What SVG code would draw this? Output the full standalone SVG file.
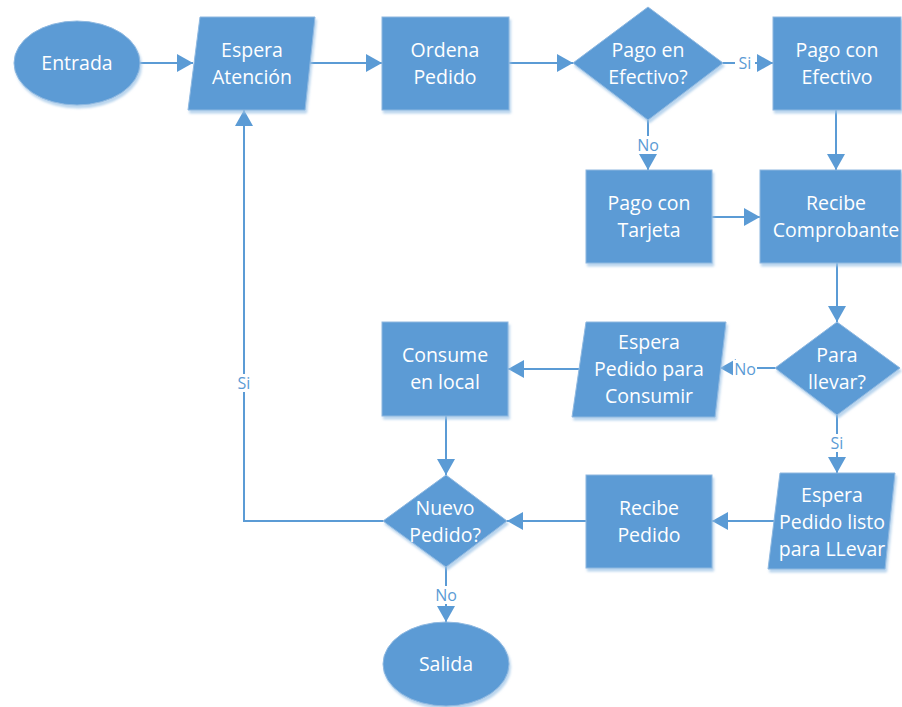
<svg xmlns="http://www.w3.org/2000/svg" width="902" height="707" viewBox="0 0 902 707">
  <defs>
    <filter id="shadow" x="-10%" y="-10%" width="125%" height="130%">
      <feDropShadow dx="1.5" dy="3" stdDeviation="1.2" flood-color="#9dc3e6" flood-opacity="0.7"/>
    </filter>
    <marker id="arrow" viewBox="0 0 16 18" refX="16" refY="9" markerWidth="16" markerHeight="18" markerUnits="userSpaceOnUse" orient="auto">
      <path d="M0,0 L16,9 L0,18 z" fill="#5b9bd5"/>
    </marker>
  </defs>
  <style>
    .shape { fill: #5b9bd5; stroke: #8fb8e0; stroke-width: 1; filter: url(#shadow); }
    .txt { font-family: "Open Sans", "Noto Sans", sans-serif; font-size: 19.5px; fill: #ffffff; text-anchor: middle; }
    .edge { fill: none; stroke: #5b9bd5; stroke-width: 2; }
    .lbl { font-family: "Open Sans", "Noto Sans", sans-serif; font-size: 16px; fill: #5b9bd5; text-anchor: middle; }
    .lblbg { fill: #ffffff; }
  </style>
  <rect width="902" height="707" fill="#ffffff"/>

  <g id="connectors">
    <path class="edge" d="M140,63 H193" marker-end="url(#arrow)"/>
    <path class="edge" d="M310,63 H382" marker-end="url(#arrow)"/>
    <path class="edge" d="M509,63 H573" marker-end="url(#arrow)"/>
    <path class="edge" d="M723,63 H773" marker-end="url(#arrow)"/>
    <path class="edge" d="M648,120 V170" marker-end="url(#arrow)"/>
    <path class="edge" d="M836,110 V170" marker-end="url(#arrow)"/>
    <path class="edge" d="M712,217 H760" marker-end="url(#arrow)"/>
    <path class="edge" d="M837,263 V322" marker-end="url(#arrow)"/>
    <path class="edge" d="M775,368 H720" marker-end="url(#arrow)"/>
    <path class="edge" d="M837,415 V473" marker-end="url(#arrow)"/>
    <path class="edge" d="M579,369 H508" marker-end="url(#arrow)"/>
    <path class="edge" d="M774,521 H712" marker-end="url(#arrow)"/>
    <path class="edge" d="M586,521 H507" marker-end="url(#arrow)"/>
    <path class="edge" d="M446,416 V475" marker-end="url(#arrow)"/>
    <path class="edge" d="M446,567 V622" marker-end="url(#arrow)"/>
    <path class="edge" d="M383,521 H244 V110" marker-end="url(#arrow)"/>

    <!-- branch labels -->
    <rect class="lblbg" x="735" y="54" width="20" height="18"/>
    <text class="lbl" x="745" y="69">Si</text>
    <rect class="lblbg" x="636" y="136" width="24" height="18"/>
    <text class="lbl" x="648" y="151">No</text>
    <rect class="lblbg" x="733" y="360" width="24" height="18"/>
    <text class="lbl" x="745" y="375">No</text>
    <rect class="lblbg" x="827" y="434" width="20" height="18"/>
    <text class="lbl" x="837" y="449">Si</text>
    <rect class="lblbg" x="434" y="586" width="24" height="18"/>
    <text class="lbl" x="446" y="601">No</text>
    <rect class="lblbg" x="234" y="374" width="20" height="18"/>
    <text class="lbl" x="244" y="389">Si</text>
  </g>

  <g id="entrada">
    <ellipse class="shape" cx="77" cy="63" rx="63" ry="42"/>
    <text class="txt" x="77" y="70">Entrada</text>
  </g>

  <g id="espera-atencion">
    <polygon class="shape" points="200,17 315,17 305,110 188,110"/>
    <text class="txt" x="252" y="57">Espera</text>
    <text class="txt" x="252" y="84">Atención</text>
  </g>

  <g id="ordena-pedido">
    <rect class="shape" x="382" y="17" width="127" height="93"/>
    <text class="txt" x="445" y="57">Ordena</text>
    <text class="txt" x="445" y="84">Pedido</text>
  </g>

  <g id="pago-en-efectivo">
    <polygon class="shape" points="648,7 723,63 648,120 573,63"/>
    <text class="txt" x="648" y="57">Pago en</text>
    <text class="txt" x="648" y="84">Efectivo?</text>
  </g>

  <g id="pago-con-efectivo">
    <rect class="shape" x="773" y="17" width="128" height="93"/>
    <text class="txt" x="837" y="57">Pago con</text>
    <text class="txt" x="837" y="84">Efectivo</text>
  </g>

  <g id="pago-con-tarjeta">
    <rect class="shape" x="586" y="170" width="126" height="93"/>
    <text class="txt" x="649" y="210">Pago con</text>
    <text class="txt" x="649" y="237">Tarjeta</text>
  </g>

  <g id="recibe-comprobante">
    <rect class="shape" x="760" y="170" width="141" height="93"/>
    <text class="txt" x="836" y="210">Recibe</text>
    <text class="txt" x="836" y="237">Comprobante</text>
  </g>

  <g id="para-llevar">
    <polygon class="shape" points="837,322 900,368 837,415 775,368"/>
    <text class="txt" x="837" y="362">Para</text>
    <text class="txt" x="837" y="389">llevar?</text>
  </g>

  <g id="espera-pedido-consumir">
    <polygon class="shape" points="586,322 726,322 715,417 572,417"/>
    <text class="txt" x="649" y="349">Espera</text>
    <text class="txt" x="649" y="376">Pedido para</text>
    <text class="txt" x="649" y="403">Consumir</text>
  </g>

  <g id="consume-en-local">
    <rect class="shape" x="382" y="322" width="126" height="94"/>
    <text class="txt" x="445" y="362">Consume</text>
    <text class="txt" x="445" y="389">en local</text>
  </g>

  <g id="espera-pedido-llevar">
    <polygon class="shape" points="780,473 895,473 885,569 768,569"/>
    <text class="txt" x="832" y="502">Espera</text>
    <text class="txt" x="832" y="529">Pedido listo</text>
    <text class="txt" x="832" y="556">para LLevar</text>
  </g>

  <g id="recibe-pedido">
    <rect class="shape" x="586" y="475" width="126" height="93"/>
    <text class="txt" x="649" y="515">Recibe</text>
    <text class="txt" x="649" y="542">Pedido</text>
  </g>

  <g id="nuevo-pedido">
    <polygon class="shape" points="446,475 507,521 446,567 383,521"/>
    <text class="txt" x="445" y="515">Nuevo</text>
    <text class="txt" x="445" y="542">Pedido?</text>
  </g>

  <g id="salida">
    <ellipse class="shape" cx="446" cy="664" rx="63" ry="42"/>
    <text class="txt" x="446" y="671">Salida</text>
  </g>
</svg>
